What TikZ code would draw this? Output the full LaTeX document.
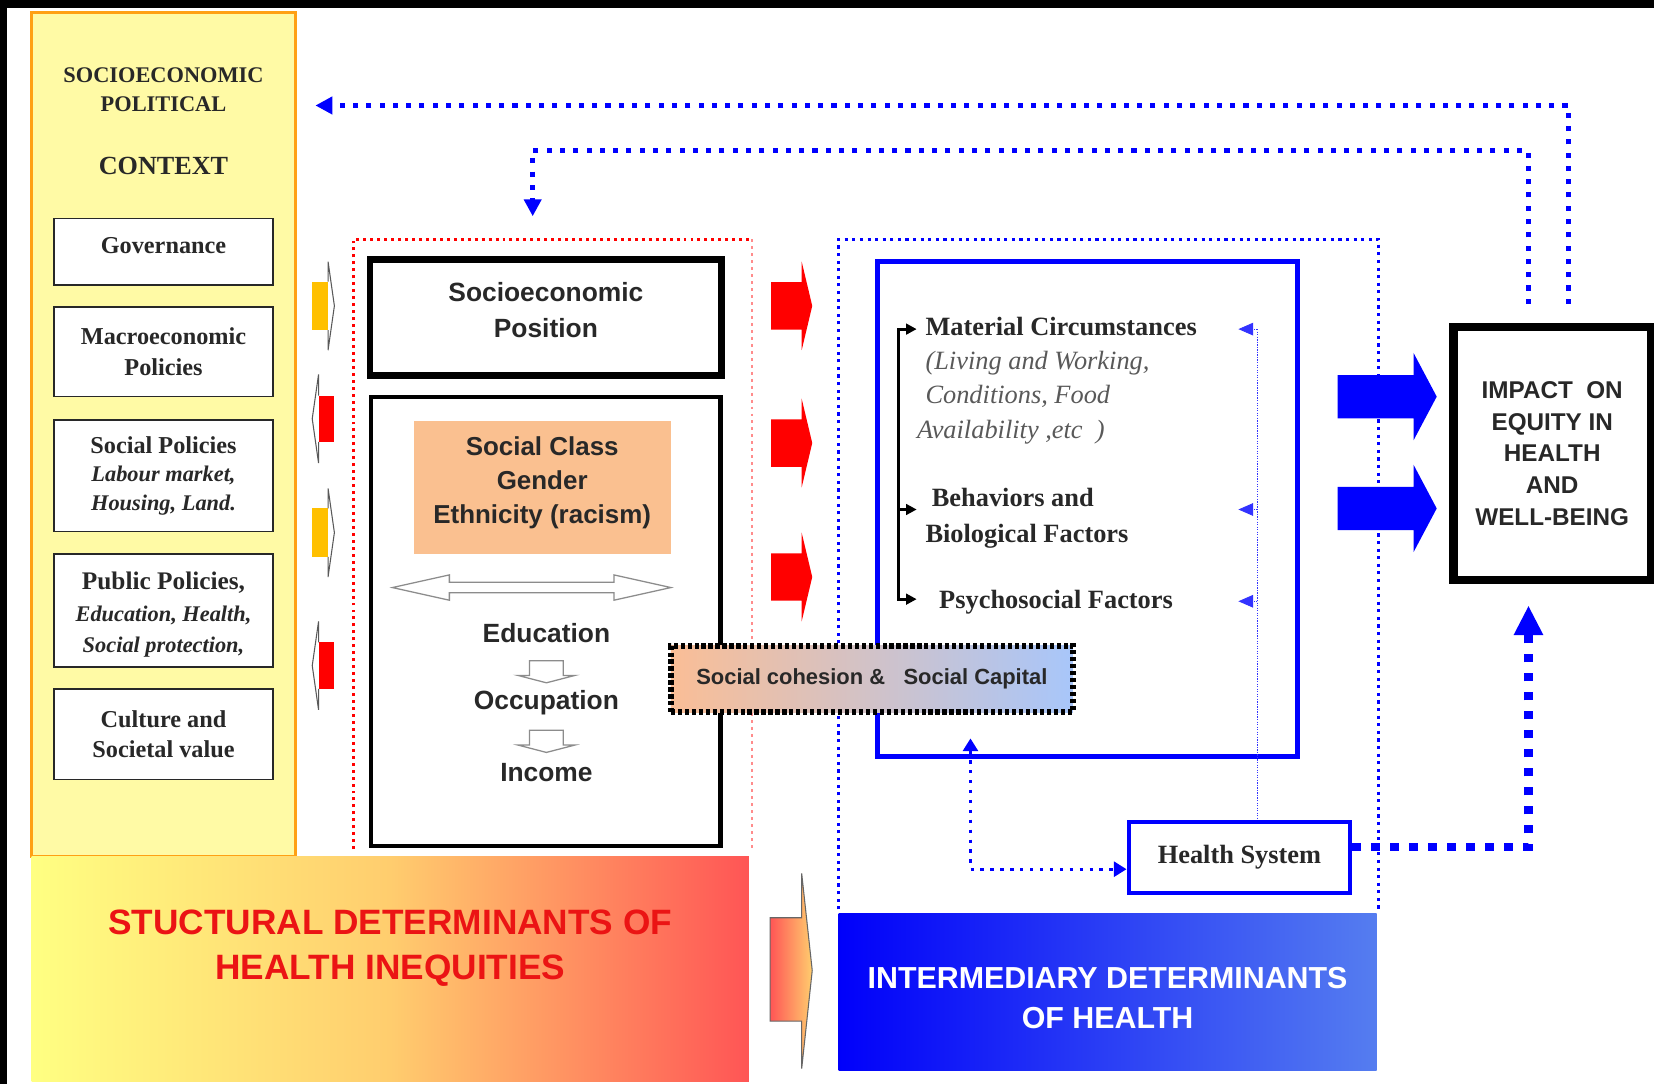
\documentclass[tikz,border=0pt]{standalone}
\usepackage{fontspec}
\setmainfont{Liberation Serif}
\newfontfamily\arialfont{Liberation Sans}
\usetikzlibrary{arrows.meta,calc}

\definecolor{ctxyellow}{RGB}{255,250,165}
\definecolor{ctxorange}{RGB}{255,160,20}
\definecolor{sideyellow}{RGB}{255,192,0}
\definecolor{classorange}{RGB}{250,192,144}
\definecolor{cohesionpeach}{RGB}{250,190,150}
\definecolor{cohesionblue}{RGB}{168,198,250}
\definecolor{barblue}{RGB}{0,0,250}
\definecolor{barlightblue}{RGB}{85,125,240}
\definecolor{barred}{RGB}{255,85,85}
\definecolor{barorange}{RGB}{255,205,110}
\definecolor{baryellow}{RGB}{255,255,130}
\definecolor{titlered}{RGB}{235,20,20}
\definecolor{textgrey}{RGB}{40,40,40}

\newcommand{\polsub}[1]{{\fontsize{10.6}{13.5}\selectfont\itshape #1}}
\newcommand{\lowpad}[1]{\rule[-#1]{0pt}{#1}}

\tikzset{
  every node/.style={inner sep=0pt},
  ctxbox/.style={draw=ctxorange, fill=ctxyellow, line width=1.6pt, minimum width=125pt, minimum height=400pt},
  ctxtitle/.style={align=center, text=textgrey, font=\fontsize{10.6}{14}\selectfont\bfseries},
  polbox/.style={draw=textgrey, fill=white, line width=0.8pt, minimum width=104pt, align=center, text=textgrey, font=\fontsize{11.5}{14.5}\selectfont\bfseries},
  sidearrow/.style={draw=black!65, line width=0.5pt},
  reddot/.style={draw=red, line width=1.6pt, dash pattern=on 1.4pt off 1.9pt},
  bluedot/.style={draw=blue, line width=1.7pt, dash pattern=on 1.5pt off 2.1pt},
  sepbox/.style={draw, line width=3pt, minimum width=166.5pt, minimum height=55pt, align=center, text=textgrey, font=\fontsize{12.5}{17}\arialfont\bfseries},
  seframe/.style={draw, line width=2pt, minimum width=165.5pt, minimum height=213pt},
  classbox/.style={fill=classorange, minimum width=122pt, minimum height=63pt, align=center, text=textgrey, font=\fontsize{12.3}{16.25}\arialfont\bfseries},
  sanslab/.style={text=textgrey, font=\fontsize{12.5}{15}\arialfont\bfseries},
  hollow/.style={draw=black!45, fill=white, line width=0.6pt},
  hollowdown/.pic={\filldraw[hollow] (-16,-10) -- (16,-10) -- (16,4) -- (27,4) -- (0,11) -- (-27,4) -- (-16,4) -- cycle;},
  redblock/.style={fill=red},
  interbox/.style={draw=blue, line width=2.2pt, minimum width=199pt, minimum height=234.5pt},
  factor/.style={align=left, text=textgrey, font=\fontsize{12.5}{17}\selectfont\bfseries},
  factorsub/.style={align=left, text=black!65, font=\fontsize{12.5}{16.25}\selectfont\itshape},
  bracket/.style={draw=black, line width=1.5pt},
  feedback/.style={draw=blue!80, line width=0.4pt, dash pattern=on 0.6pt off 0.6pt},
  hsbox/.style={draw=blue, line width=2pt, fill=white, minimum width=105pt, minimum height=33.5pt, text=textgrey, font=\fontsize{12.5}{15}\selectfont\bfseries},
  hsloop/.style={draw=blue, line width=1.6pt, dash pattern=on 1.6pt off 3.1pt},
  thickdot/.style={draw=blue, line width=4pt, dash pattern=on 4pt off 5pt},
  topdot/.style={draw=blue, line width=2.4pt, dash pattern=on 2.4pt off 3.9pt},
  cohesion/.style={draw=black, line width=2.8pt, dash pattern=on 2pt off 1.3pt, left color=cohesionpeach, right color=cohesionblue, minimum width=190.5pt, minimum height=31.5pt, text=textgrey, font=\fontsize{10.4}{12}\arialfont\bfseries},
  impactbox/.style={draw, line width=4pt, fill=white, minimum width=93.5pt, minimum height=120pt, align=center, text=textgrey, font=\fontsize{11.5}{15.1}\arialfont\bfseries},
  structbar/.style={minimum width=340pt, minimum height=106.5pt, left color=baryellow, right color=barred, middle color=barorange},
  interbar/.style={minimum width=255pt, minimum height=74.5pt, left color=barblue, right color=barlightblue},
  bartext/.style={align=center, font=\fontsize{16.7}{21.5}\arialfont\bfseries}
}

\begin{document}
\begin{tikzpicture}[x=0.5pt,y=-0.5pt]
  % page and black edges
  \fill[white] (0,0) rectangle (1568,1028);
  \useasboundingbox (0,0) rectangle (1568,1028);
  \fill[black] (0,0) rectangle (1568,8);
  \fill[black] (0,0) rectangle (7,1028);

  % context column
  \node[ctxbox] (ctx) at (155,412) {};
  \node[ctxtitle] (ctxname) at (155,85) {SOCIOECONOMIC\\POLITICAL};
  \node[ctxtitle, font=\fontsize{12.4}{14}\selectfont\bfseries] (ctxword) at (155,157) {CONTEXT};
  \node[polbox, minimum height=31.5pt] (gov) at (155,238.5) {Governance\lowpad{6pt}};
  \node[polbox, minimum height=42.5pt] (macro) at (155,333.5) {Macroeconomic\\Policies};
  \node[polbox, minimum height=53pt, font=\fontsize{11.5}{13.5}\selectfont\bfseries] (social) at (155,451) {Social Policies\\\polsub{Labour market,}\\\polsub{Housing, Land.}};
  \node[polbox, minimum height=53.5pt, font=\fontsize{12}{15}\selectfont\bfseries] (public) at (155,578.5) {\rule{0pt}{12.5pt}Public Policies,\\\polsub{Education, Health,}\\\polsub{Social protection,}};
  \node[polbox, minimum height=43pt] (culture) at (155,696) {Culture and\\Societal value};

  % small arrows beside the column
  \foreach \c in {290,505} {
    \fill[sideyellow] (296,{\c-23}) rectangle (311,{\c+23});
    \draw[sidearrow] (311,{\c-23}) -- (311,{\c-42}) -- (317,\c) -- (311,{\c+42}) -- (311,{\c+23});
  }
  \foreach \c in {397,631} {
    \fill[red] (302,{\c-22}) rectangle (317,{\c+22});
    \draw[sidearrow] (302,{\c-22}) -- (302,{\c-42}) -- (296,\c) -- (302,{\c+42}) -- (302,{\c+22});
  }

  % structural block
  \draw[reddot] (335,805) -- (335,227) -- (713,227);
  \draw[reddot, draw=red!45, line width=1pt] (713,227) -- (713,805);
  \node[sepbox] (sep) at (517.5,301) {Socioeconomic\\Position\lowpad{7pt}};
  \node[seframe] (seframe) at (517.5,589) {};
  \node[classbox] (class) at (514,462) {Social Class\\Gender\\Ethnicity (racism)\lowpad{7pt}};
  \filldraw[hollow] (372,557) -- (426,545) -- (426,552) -- (582,552) -- (582,545) -- (636,557)
    -- (582,569) -- (582,562) -- (426,562) -- (426,569) -- cycle;
  \node[sanslab] (edu) at (518,600) {Education};
  \node[sanslab] (occ) at (518,666) {Occupation};
  \node[sanslab] (inc) at (518,732) {Income};
  \pic at ($(edu)!0.55!(occ)$) {hollowdown};
  \pic at ($(occ)!0.55!(inc)$) {hollowdown};

  % red arrows to the intermediary block
  \foreach \c in {290,420,547} {
    \fill[redblock] (731,{\c-22.5}) -- (760,{\c-22.5}) -- (760,{\c-42}) -- (770,\c) -- (760,{\c+42})
      -- (760,{\c+22.5}) -- (731,{\c+22.5}) -- cycle;
  }

  % intermediary block
  \draw[bluedot] (795,862) -- (795,227) -- (1307,227) -- (1307,862);
  \node[interbox] (inter) at (1031,482.5) {};
  \node[factor, anchor=west] (mat) at (877,310) {Material Circumstances};
  \node[factorsub, anchor=west] (matsub) at (877,377) {(Living and Working,\\Conditions, Food\\\hspace*{-4pt}Availability ,etc\ \ )};
  \node[factor, anchor=west] (beh) at (877,491) {\hspace*{3pt}Behaviors and\\Biological Factors};
  \node[factor, anchor=west] (psy) at (890,571) {Psychosocial Factors};

  \coordinate (brtop) at (852,312);
  \coordinate (brmid) at (852,483);
  \coordinate (brbot) at (852,568);
  \draw[bracket, {Triangle[length=5pt,width=5pt]}-{Triangle[length=5pt,width=5pt]}, shorten <=4pt, shorten >=4pt]
    (brtop -| mat.west) -- (brtop) -- (brbot) -- (brbot -| mat.west);
  \draw[bracket, -{Triangle[length=5pt,width=5pt]}, shorten >=4pt] (brmid) -- (brmid -| mat.west);

  % health system
  \node[hsbox] (hs) at (1175,813) {Health System};
  \foreach \n/\yy in {1/312,2/483,3/570} {
    \coordinate (fb\n) at (1192,\yy);
    \draw[feedback, -{Triangle[length=7pt,width=6pt]}] (fb\n) -- ++(-18,0);
  }
  \draw[feedback] (fb1) -- (fb1 |- hs.north);
  \coordinate (hsup) at (920,700);
  \draw[hsloop, {Triangle[length=6pt,width=7pt]}-{Triangle[length=6pt,width=7pt]}] (hsup) |- ([yshift=-5.5pt]hs.west);

  \node[cohesion] (scsc) at (826.5,643.5) {Social cohesion \&\ \ \ Social Capital};

  % impact
  \foreach \c in {376,482} {
    \fill[blue] (1268,{\c-20.5}) -- (1340,{\c-20.5}) -- (1340,{\c-41.5}) -- (1362,\c) -- (1340,{\c+41.5})
      -- (1340,{\c+20.5}) -- (1268,{\c+20.5}) -- cycle;
  }
  \node[impactbox] (impact) at (1471.5,430) {IMPACT\ \ ON\\EQUITY IN\\HEALTH\\AND\\WELL-BEING};
  \coordinate (impin) at (1449,574);
  \draw[thickdot, -{Triangle[length=14pt,width=13pt]}] ([yshift=5pt]hs.east) -| (impin);

  % feedback to context and position
  \coordinate (ctxtip) at (299,100);
  \coordinate (innerturn) at (505,143);
  \coordinate (septip) at (505,205);
  \draw[topdot, -{Triangle[length=8pt,width=8pt]}, shorten <=9pt] ([xshift=7.75pt]impact.north) |- (ctxtip);
  \draw[topdot, -{Triangle[length=8pt,width=8pt]}, shorten <=9pt] ([xshift=-11.25pt]impact.north) |- (innerturn) -- (septip);

  % bottom bars
  \node[structbar] (sdh) at (370,918.5) {};
  \node[bartext, text=titlered] (sdhtext) at (370,899) {STUCTURAL DETERMINANTS OF\\HEALTH INEQUITIES};
  \shadedraw[left color=barred, right color=barorange, draw=black!60, line width=0.5pt]
    (730,870) -- (760,870) -- (760,828) -- (770,920) -- (760,1013) -- (760,968) -- (730,968) -- cycle;
  \node[interbar] (idh) at (1050,940.5) {};
  \node[bartext, text=white, font=\fontsize{14.4}{19}\arialfont\bfseries] (idhtext) at (1050,946) {INTERMEDIARY DETERMINANTS\\OF HEALTH};
\end{tikzpicture}
\end{document}
